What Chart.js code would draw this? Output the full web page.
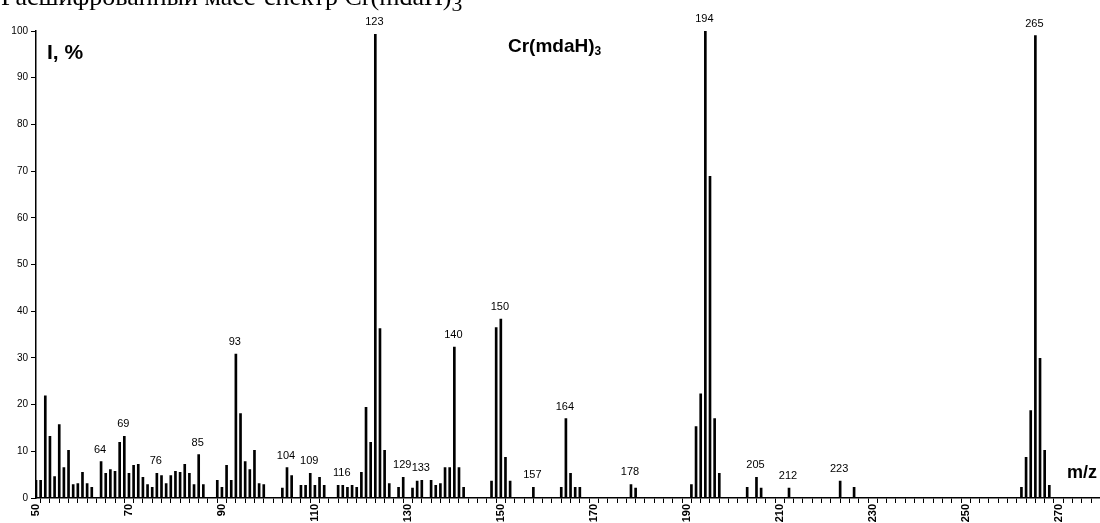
<!DOCTYPE html>
<html>
<head>
<meta charset="utf-8">
<script src="https://cdn.jsdelivr.net/npm/chart.js@4.4.1/dist/chart.umd.min.js"></script>
<style>
  body { margin: 0; background: #fff; }
  #wrap { position: relative; width: 1100px; height: 523px; overflow: hidden; }
  #title { position: absolute; left: 1px; top: -16px; font: 26px/26px "Liberation Serif", "DejaVu Serif", serif; white-space: nowrap; color: #000; }
  .note { position: absolute; font-family: "Liberation Sans", Arial, sans-serif; font-weight: bold; color: #000; white-space: nowrap; line-height: normal; }
  #ylab { left: 47px; top: 40px; font-size: 21px; }
  #comp { left: 508px; top: 35px; font-size: 19px; }
  #comp sub { font-size: 12px; vertical-align: -3px; }
  #xlab { left: 1067px; top: 462px; font-size: 18px; }
</style>
</head>
<body>
<div id="wrap">
  <canvas id="myChart" width="1110" height="523"></canvas>
  <div id="title">Расшифрованный масс-спектр Cr(mdaH)<sub>3</sub></div>
  <div class="note" id="ylab">I, %</div>
  <div class="note" id="comp">Cr(mdaH)<sub>3</sub></div>
  <div class="note" id="xlab">m/z</div>
</div>
<script>
// m/z values and relative intensities
var mz = [50, 51, 52, 53, 54, 55, 56, 57, 58, 59, 60, 61, 62, 64, 65, 66, 67, 68, 69, 70,
          71, 72, 73, 74, 75, 76, 77, 78, 79, 80, 81, 82, 83, 84, 85, 86, 89, 90, 91, 92,
          93, 94, 95, 96, 97, 98, 99, 103, 104, 105, 107, 108, 109, 110, 111, 112, 115, 116, 117, 118,
          119, 120, 121, 122, 123, 124, 125, 126, 128, 129, 131, 132, 133, 135, 136, 137, 138, 139, 140, 141,
          142, 148, 149, 150, 151, 152, 157, 163, 164, 165, 166, 167, 178, 179, 191, 192, 193, 194, 195, 196,
          197, 203, 205, 206, 212, 223, 226, 262, 263, 264, 265, 266, 267, 268];
var intensity = [3.8, 3.8, 21.9, 13.2, 4.6, 15.7, 6.5, 10.2, 2.9, 3.1, 5.5, 3.1, 2.3, 7.8, 5.3, 6.1, 5.7, 11.9, 13.2, 5.3,
                 7.0, 7.2, 4.4, 2.9, 2.3, 5.3, 4.8, 3.1, 4.8, 5.7, 5.5, 7.2, 5.3, 2.9, 9.3, 2.9, 3.8, 2.3, 7.0, 3.8,
                 30.8, 18.1, 7.8, 6.1, 10.2, 3.1, 2.9, 2.1, 6.5, 4.8, 2.7, 2.7, 5.3, 2.7, 4.4, 2.7, 2.7, 2.7, 2.3, 2.7,
                 2.3, 5.5, 19.4, 11.9, 99.3, 36.3, 10.2, 3.1, 2.3, 4.4, 2.1, 3.6, 3.8, 3.8, 2.7, 3.1, 6.5, 6.5, 32.3, 6.5,
                 2.3, 3.6, 36.5, 38.3, 8.7, 3.6, 2.3, 2.3, 17.0, 5.3, 2.3, 2.3, 2.9, 2.1, 2.9, 15.3, 22.3, 100, 68.9, 17.0,
                 5.3, 2.3, 4.4, 2.1, 2.1, 3.6, 2.3, 2.3, 8.7, 18.7, 99.0, 29.9, 10.2, 2.7];

// peaks that carry a number above them
var peakLabels = [64, 69, 76, 85, 93, 104, 109, 116, 123, 129, 133, 140, 150, 157, 164, 178, 194, 205, 212, 223, 265];

var xMin = 50;
var xMax = 279;
var yTicks = [0, 10, 20, 30, 40, 50, 60, 70, 80, 90, 100];

var fontFamily = '"Liberation Sans", Arial, sans-serif';

// numbers over the labelled peaks
var peakLabelPlugin = {
    id: 'peakLabels',
    afterDatasetsDraw: function(chart) {
        var ctx = chart.ctx;
        var xs = chart.scales.x;
        var ys = chart.scales.y;
        ctx.save();
        ctx.fillStyle = '#000';
        ctx.font = '11px ' + fontFamily;
        ctx.textAlign = 'center';
        ctx.textBaseline = 'alphabetic';
        peakLabels.forEach(function(m) {
            var i = mz.indexOf(m);
            if (i < 0) return;
            var px = xs.getPixelForValue(m);
            var py = ys.getPixelForValue(intensity[i]);
            ctx.fillText(String(m), px - 1, py - 9);
        });
        ctx.restore();
    }
};

document.addEventListener('DOMContentLoaded', function() {
    var ctx = document.getElementById('myChart').getContext('2d');

    var chart = new Chart(ctx, {
        type: 'bar',
        data: {
            datasets: [{
                label: 'I, %',
                data: mz.map(function(m, i) { return { x: m, y: intensity[i] }; }),
                backgroundColor: '#000',
                borderWidth: 0,
                barThickness: 2
            }]
        },
        options: {
            responsive: false,
            animation: false,
            layout: { padding: { top: 31, left: 0, right: 0, bottom: 0 } },
            plugins: {
                legend: { display: false },
                tooltip: { enabled: false }
            },
            scales: {
                x: {
                    type: 'linear',
                    min: xMin,
                    max: xMax,
                    offset: false,
                    grid: { drawOnChartArea: false, drawTicks: true, tickLength: 5, color: '#000', lineWidth: 1 },
                    border: { display: true, color: '#000', width: 1.5 },
                    ticks: {
                        stepSize: 2,
                        autoSkip: false,
                        includeBounds: false,
                        minRotation: 90,
                        maxRotation: 90,
                        padding: 1,
                        color: '#000',
                        font: { family: fontFamily, size: 11, weight: 'bold' },
                        callback: function(v) { return (v - 50) % 20 === 0 ? String(v) : ''; }
                    },
                    afterFit: function(scale) { scale.height = 25; }
                },
                y: {
                    min: 0,
                    max: 100,
                    grid: { drawOnChartArea: false, drawTicks: true, tickLength: 5, color: '#000', lineWidth: 1 },
                    border: { display: true, color: '#000', width: 1.5 },
                    afterBuildTicks: function(scale) {
                        scale.ticks = yTicks.map(function(v) { return { value: v }; });
                    },
                    ticks: {
                        padding: 3,
                        color: '#000',
                        font: { family: fontFamily, size: 10 }
                    },
                    afterFit: function(scale) { scale.width = 36; }
                }
            }
        },
        plugins: [peakLabelPlugin]
    });
});
</script>
</body>
</html>
